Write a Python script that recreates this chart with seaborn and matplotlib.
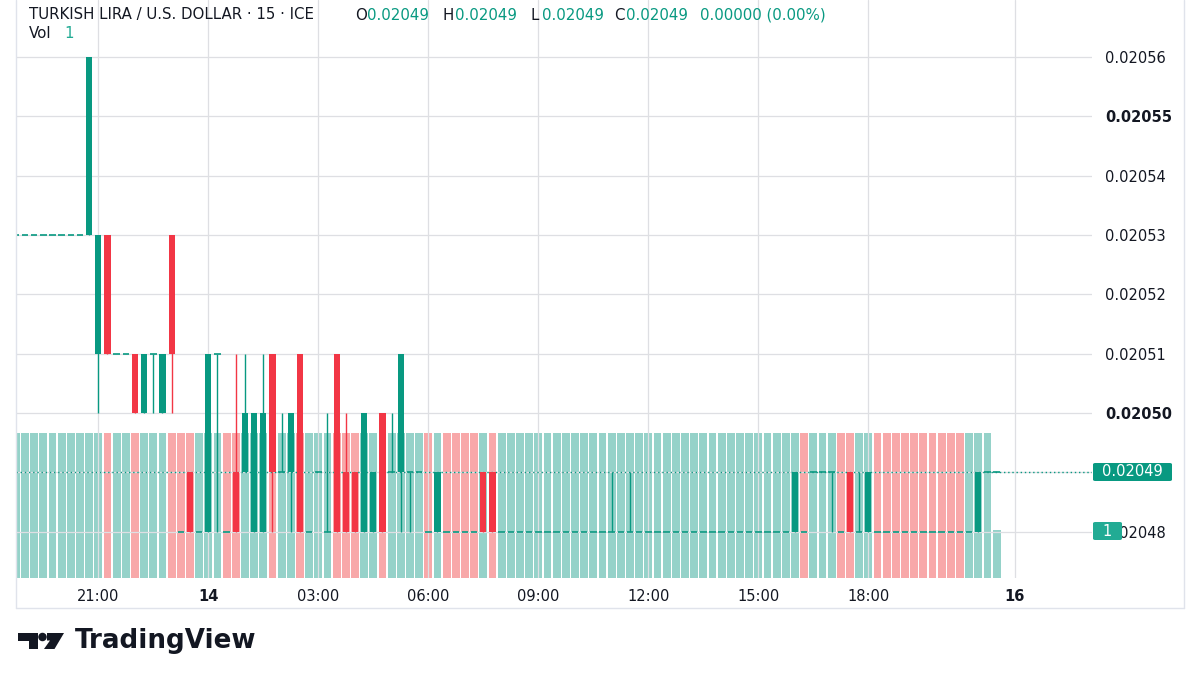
import numpy as np
import pandas as pd
import matplotlib.pyplot as plt
import matplotlib.patches as mpatches
from matplotlib.lines import Line2D
import seaborn as sns

W, H = 1200, 675
GREEN = "#089981"
RED = "#F23645"
VOL_UP = "#95D2C9"
VOL_DOWN = "#F8A8A9"
GRID = "#DEDFE3"
TEXT = "#131722"

# 15 minute bars, 13th 18:45 -> 14th 21:30
# prices are given in steps of 0.00001 above 0.02000
FIRST_BAR = -21  # bar number of the first bar (0 = 14th 00:00)
opens = [
    53, 53, 53, 53, 53, 53, 53, 53, 53,
    51, 53, 51, 51, 51, 50, 51, 50, 53, 48, 49, 48,
    48, 51, 48, 49, 49, 48, 48, 51, 49, 49, 51, 48,
    49, 48, 51, 49, 49, 48, 48, 50, 49, 49, 49, 49,
    48, 48, 48, 48, 48, 48, 49, 49, 48, 48, 48, 48,
    48, 48, 48, 48, 48, 48, 48, 48, 48, 48, 48, 48,
    48, 48, 48, 48, 48, 48, 48, 48, 48, 48, 48, 48,
    48, 48, 48, 48, 48, 48, 49, 49, 49, 48, 49, 48,
    48, 48, 48, 48, 48, 48, 48, 48, 48, 48, 48, 48,
    48, 49, 49,
]
highs = [
    53, 53, 53, 53, 53, 53, 53, 53, 56,
    53, 53, 51, 51, 51, 51, 51, 51, 53, 48, 49, 48,
    51, 51, 48, 51, 51, 50, 51, 51, 50, 50, 51, 48,
    49, 50, 51, 50, 49, 50, 49, 50, 50, 51, 49, 49,
    48, 49, 48, 48, 48, 48, 49, 49, 48, 48, 48, 48,
    48, 48, 48, 48, 48, 48, 48, 48, 49, 48, 49, 48,
    48, 48, 48, 48, 48, 48, 48, 48, 48, 48, 48, 48,
    48, 48, 48, 48, 49, 48, 49, 49, 49, 48, 49, 49,
    49, 48, 48, 48, 48, 48, 48, 48, 48, 48, 48, 48,
    49, 49, 49,
]
lows = [
    53, 53, 53, 53, 53, 53, 53, 53, 53,
    50, 51, 51, 51, 50, 50, 50, 50, 50, 48, 48, 48,
    48, 48, 48, 48, 49, 48, 48, 48, 49, 48, 48, 48,
    49, 48, 48, 48, 48, 48, 48, 48, 49, 48, 48, 49,
    48, 48, 48, 48, 48, 48, 48, 48, 48, 48, 48, 48,
    48, 48, 48, 48, 48, 48, 48, 48, 48, 48, 48, 48,
    48, 48, 48, 48, 48, 48, 48, 48, 48, 48, 48, 48,
    48, 48, 48, 48, 48, 48, 49, 49, 48, 48, 48, 48,
    48, 48, 48, 48, 48, 48, 48, 48, 48, 48, 48, 48,
    48, 49, 49,
]
closes = [
    53, 53, 53, 53, 53, 53, 53, 53, 56,
    53, 51, 51, 51, 50, 51, 51, 51, 51, 48, 48, 48,
    51, 51, 48, 48, 50, 50, 50, 49, 49, 50, 48, 48,
    49, 48, 48, 48, 48, 50, 49, 48, 49, 51, 49, 49,
    48, 49, 48, 48, 48, 48, 48, 48, 48, 48, 48, 48,
    48, 48, 48, 48, 48, 48, 48, 48, 48, 48, 48, 48,
    48, 48, 48, 48, 48, 48, 48, 48, 48, 48, 48, 48,
    48, 48, 48, 48, 49, 48, 49, 49, 49, 48, 48, 48,
    49, 48, 48, 48, 48, 48, 48, 48, 48, 48, 48, 48,
    49, 49, 49,
]
volumes = [
    3, 3, 3, 3, 3, 3, 3, 3, 3,
    3, 3, 3, 3, 3, 3, 3, 3, 3, 3, 3, 3,
    3, 3, 3, 3, 3, 3, 3, 3, 3, 3, 3, 3,
    3, 3, 3, 3, 3, 3, 3, 3, 3, 3, 3, 3,
    3, 3, 3, 3, 3, 3, 3, 3, 3, 3, 3, 3,
    3, 3, 3, 3, 3, 3, 3, 3, 3, 3, 3, 3,
    3, 3, 3, 3, 3, 3, 3, 3, 3, 3, 3, 3,
    3, 3, 3, 3, 3, 3, 3, 3, 3, 3, 3, 3,
    3, 3, 3, 3, 3, 3, 3, 3, 3, 3, 3, 3,
    3, 3, 1,
]
vol_side = (
    "uuuuuuuuu"
    "udu" "udu" "uud" "ddu"
    "uud" "duu" "udu" "udu"
    "uud" "ddu" "udu" "uuu"
    "dud" "ddd" "udu" "uuu"
    "uuuuuuuuuuuu"
    "uuuuuuuuuuuu"
    "uuu" "uud" "uuu" "ddu"
    "udd" "ddd" "ddd" "ddu"
    "uuu"
)

price_levels = [48, 49, 50, 51, 52, 53, 54, 55, 56]
bold_levels = [50, 55]
time_ticks = [-12, 0, 12, 24, 36, 48, 60, 72, 88]
time_labels = ["21:00", "14", "03:00", "06:00", "09:00", "12:00", "15:00", "18:00", "16"]
bold_times = ["14", "16"]


def px_x(x):
    return x / W


def px_y(y):
    return 1 - y / H


sns.set_theme(style="white")
plt.rcParams["font.family"] = ["DejaVu Sans"]

fig = plt.figure(figsize=(12, 6.75), dpi=100)
fig.patch.set_facecolor("white")
rect = [px_x(16), px_y(578), px_x(1092) - px_x(16), px_y(0) - px_y(578)]
ax = fig.add_axes(rect)
ax_vol = ax.twinx()

bars = FIRST_BAR + np.arange(len(opens))
o = 0.02 + np.array(opens) * 1e-5
h = 0.02 + np.array(highs) * 1e-5
l = 0.02 + np.array(lows) * 1e-5
c = 0.02 + np.array(closes) * 1e-5

# volume overlay (seaborn bars on their own scale)
vol_df = pd.DataFrame({
    "bar": bars,
    "volume": volumes,
    "side": ["up" if s == "u" else "down" for s in vol_side],
})
sns.barplot(data=vol_df, x="bar", y="volume", hue="side",
            palette={"up": VOL_UP, "down": VOL_DOWN}, dodge=False,
            native_scale=True, width=0.84, saturation=1, errorbar=None,
            legend=False, linewidth=0, ax=ax_vol)
ax_vol.set_ylim(0, 11.96)
ax_vol.set_xlabel("")
ax_vol.set_ylabel("")
ax_vol.set_yticks([])
for s in ax_vol.spines.values():
    s.set_visible(False)

ax.set_zorder(ax_vol.get_zorder() + 1)
ax.patch.set_visible(False)

# grid
for lv in price_levels:
    ax.axhline(0.02 + lv * 1e-5, color=GRID, lw=0.9, zorder=0.5)
for t in time_ticks:
    ax.axvline(t, color=GRID, lw=0.9, zorder=0.5)

# last price line
ax.axhline(c[-1], color=GREEN, lw=1, ls=(0, (1, 2)), zorder=1)

# candles
col = np.where(c > o, GREEN, np.where(c < o, RED, GREEN))
wick = h > l
ax.vlines(bars[wick], l[wick], h[wick], colors=col[wick], lw=1, zorder=2.5)
body = c != o
ax.bar(bars[body], (c - o)[body], bottom=o[body], width=0.66,
       color=col[body], linewidth=0, zorder=3)
flat = ~body
ax.hlines(o[flat], bars[flat] - 0.35, bars[flat] + 0.35, colors=GREEN, lw=1.2, zorder=3)

ax.set_xlim(-20.98, 96.4)
ax.set_ylim(0.0204722, 0.0205696)

# the last price level sits under the price box, so its scale label is left out
ax.yaxis.tick_right()
ax.set_yticks([0.02 + lv * 1e-5 for lv in price_levels])
ax.set_yticklabels(["" if lv == closes[-1] else f"{0.02 + lv * 1e-5:.5f}"
                    for lv in price_levels])
for lab, lv in zip(ax.get_yticklabels(), price_levels):
    if lv in bold_levels:
        lab.set_fontweight("bold")
ax.set_xticks(time_ticks)
ax.set_xticklabels(time_labels)
for lab in ax.get_xticklabels():
    if lab.get_text() in bold_times:
        lab.set_fontweight("bold")
ax.tick_params(axis="y", length=0, pad=9.5, labelsize=10.5, labelcolor=TEXT)
ax.tick_params(axis="x", length=0, pad=8, labelsize=10.5, labelcolor=TEXT)
ax.grid(False)
for s in ax.spines.values():
    s.set_visible(False)

# chart frame
frame = dict(color="#E0E3EB", lw=1)
fig.add_artist(Line2D([px_x(16), px_x(16)], [px_y(0), px_y(608)], **frame))
fig.add_artist(Line2D([px_x(16), px_x(1184)], [px_y(608), px_y(608)], **frame))
fig.add_artist(Line2D([px_x(1184), px_x(1184)], [px_y(0), px_y(608)], **frame))


# price and volume labels on the scale
def scale_box(x0, y0, x1, y1, color, text):
    fig.add_artist(mpatches.FancyBboxPatch(
        (px_x(x0), px_y(y1)), px_x(x1) - px_x(x0), px_y(y0) - px_y(y1),
        boxstyle="round,pad=0,rounding_size=0.002", transform=fig.transFigure,
        facecolor=color, edgecolor="none", zorder=5))
    fig.text(px_x((x0 + x1) / 2), px_y((y0 + y1) / 2), text, color="white",
             fontsize=10.5, ha="center", va="center", zorder=6)


scale_box(1093, 463, 1172, 481, GREEN, f"{c[-1]:.5f}")
scale_box(1093, 522, 1122, 540, "#22AB94", str(volumes[-1]))

# legend header
hdr = dict(fontsize=10.8, va="center")
fig.text(px_x(29), px_y(15), "TURKISH LIRA / U.S. DOLLAR · 15 · ICE", color=TEXT, **hdr)
ohlc = [("O", 355, o[-1]), ("H", 443, h[-1]), ("L", 530, l[-1]), ("C", 614, c[-1])]
for key, xx, val in ohlc:
    fig.text(px_x(xx), px_y(15), key, color=TEXT, **hdr)
    fig.text(px_x(xx + 12), px_y(15), f"{val:.5f}", color=GREEN, **hdr)
fig.text(px_x(700), px_y(15), f"{c[-1] - o[-1]:.5f} (0.00%)", color=GREEN, **hdr)
fig.text(px_x(29), px_y(34), "Vol", color=TEXT, **hdr)
fig.text(px_x(64), px_y(34), str(volumes[-1]), color="#22AB94", **hdr)

# TradingView logo
logo = "#131722"
fig.add_artist(mpatches.Polygon(
    [(px_x(18), px_y(633)), (px_x(37.5), px_y(633)), (px_x(37.5), px_y(649)),
     (px_x(28.5), px_y(649)), (px_x(28.5), px_y(640.5)), (px_x(18), px_y(640.5))],
    closed=True, transform=fig.transFigure, facecolor=logo, edgecolor="none"))
fig.add_artist(mpatches.Ellipse((px_x(42.5), px_y(637)), 8.5 / W, 8.5 / H,
                                transform=fig.transFigure, facecolor=logo, edgecolor="none"))
fig.add_artist(mpatches.Polygon(
    [(px_x(47), px_y(633)), (px_x(64), px_y(633)), (px_x(54.5), px_y(649)),
     (px_x(44), px_y(649)), (px_x(50), px_y(640.5)), (px_x(47), px_y(640.5))],
    closed=True, transform=fig.transFigure, facecolor=logo, edgecolor="none"))
fig.text(px_x(75), px_y(641), "TradingView", color=logo, fontsize=18.8,
         fontweight="bold", va="center", ha="left")

fig.savefig("out.png", dpi=100, facecolor="white")
